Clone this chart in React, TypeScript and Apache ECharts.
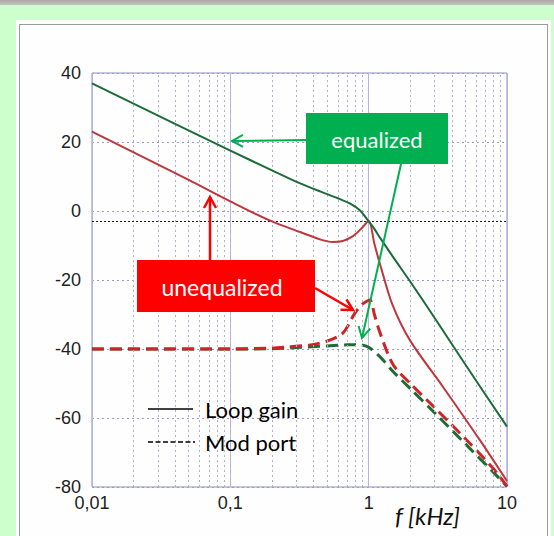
import React, { useEffect, useRef } from "react";
import * as echarts from "echarts";

// ---- data ----
const loopEqF = [0.01, 0.1, 0.2, 0.32, 0.45, 0.6, 0.73, 0.87, 1.0, 1.1, 1.21, 1.5, 2, 3, 5, 10];
const loopEqDb = [37, 17.5, 11.8, 8, 5.6, 3.7, 2.2, 0.1, -3, -5.2, -7.8, -13.3, -20.5, -31, -44.5, -62.5];

const loopUneqF = [0.01, 0.02, 0.05, 0.1, 0.194, 0.32, 0.45, 0.55, 0.65, 0.77, 0.9, 1.0, 1.1, 1.21, 1.48, 1.99, 3.45, 6.39, 10];
const loopUneqDb = [23, 17, 9, 2.8, -2.8, -6.1, -8.3, -9, -8.7, -7.3, -4.8, -2.8, -9.5, -15.5, -27, -37.5, -51, -66.5, -78.3];

const modEqF = [0.01, 0.1, 0.2, 0.3, 0.5, 0.7, 0.87, 1.0, 1.21, 1.5, 2, 3, 5, 8, 10];
const modEqDb = [-40, -40, -39.9, -39.6, -39.1, -38.8, -38.8, -39.5, -42.3, -46.5, -51.5, -58.5, -67.5, -75.8, -79.8];

const modUneqF = [0.01, 0.1, 0.2, 0.257, 0.38, 0.5, 0.65, 0.795, 0.9, 1.02, 1.1, 1.21, 1.5, 2, 3, 5, 7.9, 10];
const modUneqDb = [-40, -40, -39.7, -39.4, -38.8, -37.7, -35.4, -29.6, -27, -25.8, -30, -35.4, -44.5, -50, -57, -66, -74.5, -79.8];

const xTickValues = [0.01, 0.1, 1, 10];
const xTickLabels = ["0,01", "0,1", "1", "10"];
const minorFreqs = [
  0.02, 0.03, 0.04, 0.05, 0.06, 0.07, 0.08, 0.09,
  0.2, 0.3, 0.4, 0.5, 0.6, 0.7, 0.8, 0.9,
  2, 3, 4, 5, 6, 7, 8, 9,
];
const refLineDb = -3;

const zip = (f: number[], v: number[]) => f.map((x, i) => [x, v[i]]);

function arrow(x1: number, y1: number, x2: number, y2: number, color: string, w: number) {
  const dx = x2 - x1, dy = y2 - y1;
  const L = Math.hypot(dx, dy);
  const ux = dx / L, uy = dy / L;
  const head = 11, half = 6;
  return [
    { type: "line", z: 100, shape: { x1, y1, x2, y2 }, style: { stroke: color, lineWidth: w } },
    {
      type: "polyline",
      z: 100,
      shape: {
        points: [
          [x2 - ux * head - uy * half, y2 - uy * head + ux * half],
          [x2, y2],
          [x2 - ux * head + uy * half, y2 - uy * head - ux * half],
        ],
      },
      style: { stroke: color, fill: null, lineWidth: w },
    },
  ];
}

export default function App() {
  const ref = useRef<HTMLDivElement>(null);
  useEffect(() => {
    if (!ref.current) return;
    const chart = echarts.init(ref.current, null, { renderer: "svg" });
    const labelFont = { fontFamily: "Liberation Sans, Arial, sans-serif", fontSize: 18, color: "#222" };
    const green = "#00b050";
    const red = "#ff0000";
    chart.setOption({
      animation: false,
      grid: {
        left: 92, top: 73, width: 415, height: 414,
        show: true, borderColor: "#8f8fc0", borderWidth: 1, backgroundColor: "transparent",
      },
      xAxis: {
        type: "log", logBase: 10, min: 0.01, max: 10,
        axisLine: { show: false }, axisTick: { show: false },
        axisLabel: {
          ...labelFont, margin: 7,
          formatter: (v: number) => {
            let best = 0;
            xTickValues.forEach((t, i) => {
              if (Math.abs(Math.log10(t) - Math.log10(v)) < Math.abs(Math.log10(xTickValues[best]) - Math.log10(v))) best = i;
            });
            return xTickLabels[best];
          },
        },
        splitLine: { show: true, lineStyle: { color: "#b4b4dc", width: 1 } },
      },
      yAxis: {
        type: "value", min: -80, max: 40, interval: 20,
        axisLine: { show: false }, axisTick: { show: false },
        axisLabel: { ...labelFont, margin: 11 },
        splitLine: { show: true, lineStyle: { color: "#9a9acc", width: 1, type: [2, 3] } },
      },
      series: [
        {
          name: "minor", type: "line", data: [], z: 1, silent: true,
          markLine: {
            silent: true, symbol: "none", label: { show: false },
            lineStyle: { color: "#b0b0cc", width: 1, type: [2, 3] },
            data: minorFreqs.map((v) => ({ xAxis: v })),
          },
        },
        {
          name: "ref", type: "line", data: [], z: 1, silent: true,
          markLine: {
            silent: true, symbol: "none", label: { show: false },
            lineStyle: { color: "#1a1a50", width: 1.2, type: [2, 2] },
            data: [{ yAxis: refLineDb }],
          },
        },
        {
          name: "Mod port equalized", type: "line", data: zip(modEqF, modEqDb),
          showSymbol: false, smooth: 0.3, z: 3,
          lineStyle: { color: "#1f6b35", width: 3, type: [12, 6] },
        },
        {
          name: "Mod port unequalized", type: "line", data: zip(modUneqF, modUneqDb),
          showSymbol: false, smooth: 0.3, z: 4,
          lineStyle: { color: "#cc2525", width: 3, type: [12, 6] },
        },
        {
          name: "Loop gain unequalized", type: "line", data: zip(loopUneqF, loopUneqDb),
          showSymbol: false, smooth: 0.3, z: 5,
          lineStyle: { color: "#c0363a", width: 2 },
        },
        {
          name: "Loop gain equalized", type: "line", data: zip(loopEqF, loopEqDb),
          showSymbol: false, smooth: 0.3, z: 6,
          lineStyle: { color: "#1d6b38", width: 2 },
        },
      ],
      graphic: [
        // equalized label
        { type: "rect", z: 100, shape: { x: 306, y: 113, width: 142, height: 51 }, style: { fill: green } },
        {
          type: "text", z: 101, x: 377, y: 139,
          style: { text: "equalized", fill: "#fff", font: "22px Lato, 'Open Sans', sans-serif", align: "center", verticalAlign: "middle" },
        },
        ...arrow(306, 140, 232, 141, green, 2),
        ...arrow(401, 164, 362, 338, green, 2),
        // unequalized label
        { type: "rect", z: 100, shape: { x: 137, y: 260, width: 178, height: 52 }, style: { fill: red } },
        {
          type: "text", z: 101, x: 222, y: 287,
          style: { text: "unequalized", fill: "#fff", font: "23px Lato, 'Open Sans', sans-serif", align: "center", verticalAlign: "middle" },
        },
        ...arrow(210, 260, 210, 197, red, 2.5),
        ...arrow(315, 288, 353, 310, red, 2.5),
        // legend
        { type: "line", z: 100, shape: { x1: 148, y1: 409, x2: 193, y2: 409 }, style: { stroke: "#000", lineWidth: 1.5 } },
        {
          type: "text", z: 100, x: 205, y: 409,
          style: { text: "Loop gain", fill: "#000", font: "22px Lato, 'Open Sans', sans-serif", align: "left", verticalAlign: "middle" },
        },
        { type: "line", z: 100, shape: { x1: 148, y1: 442, x2: 195, y2: 442 }, style: { stroke: "#000", lineWidth: 1.5, lineDash: [5, 2.5] } },
        {
          type: "text", z: 100, x: 205, y: 442,
          style: { text: "Mod port", fill: "#000", font: "22px Lato, 'Open Sans', sans-serif", align: "left", verticalAlign: "middle" },
        },
        // axis title
        {
          type: "text", z: 100, x: 395, y: 515,
          style: { text: "f [kHz]", fill: "#111", font: "italic 24px Lato, 'Open Sans', sans-serif", align: "left", verticalAlign: "middle" },
        },
      ],
    });
    return () => chart.dispose();
  }, []);

  return (
    <div style={{ position: "fixed", left: 0, top: 0, width: 554, height: 536, background: "#ccffcc", overflow: "hidden" }}>
      <div style={{ position: "absolute", left: 0, top: 0, width: 554, height: 5, background: "linear-gradient(#a8a8a8, #c4c4c4)" }} />
      <div style={{ position: "absolute", left: 16, top: 20, width: 535, height: 530, background: "#fefefe" }} />
      <div style={{ position: "absolute", left: 19, top: 24, width: 529, height: 530, border: "1px solid #9a9a9a", boxSizing: "border-box" }} />
      <div ref={ref} style={{ position: "absolute", left: 0, top: 0, width: 554, height: 536 }} />
    </div>
  );
}
